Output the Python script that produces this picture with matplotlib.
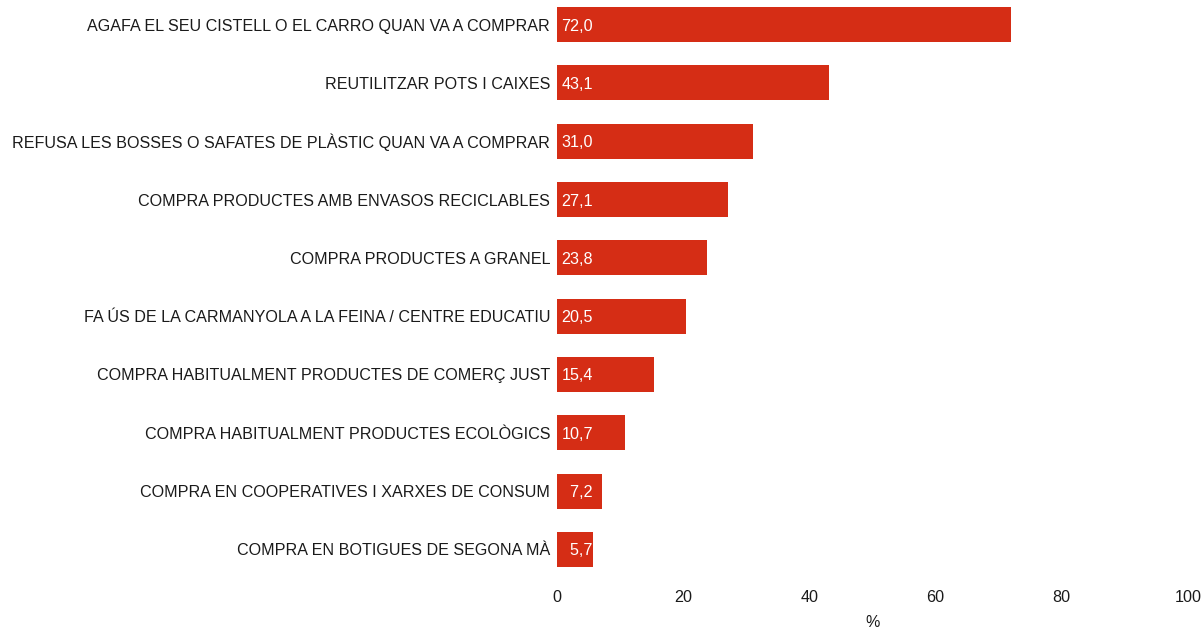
import matplotlib
matplotlib.use("Agg")
import matplotlib.pyplot as plt

# 数据
categories = [
    "AGAFA EL SEU CISTELL O EL CARRO QUAN VA A COMPRAR",
    "REUTILITZAR POTS I CAIXES",
    "REFUSA LES BOSSES O SAFATES DE PLÀSTIC QUAN VA A COMPRAR",
    "COMPRA PRODUCTES AMB ENVASOS RECICLABLES",
    "COMPRA PRODUCTES A GRANEL",
    "FA ÚS DE LA CARMANYOLA A LA FEINA / CENTRE EDUCATIU",
    "COMPRA HABITUALMENT PRODUCTES DE COMERÇ JUST",
    "COMPRA HABITUALMENT PRODUCTES ECOLÒGICS",
    "COMPRA EN COOPERATIVES I XARXES DE CONSUM",
    "COMPRA EN BOTIGUES DE SEGONA MÀ",
]
values = [72.0, 43.1, 31.0, 27.1, 23.8, 20.5, 15.4, 10.7, 7.2, 5.7]
xticks = [0, 20, 40, 60, 80, 100]

plt.rcParams['font.family'] = ['Liberation Sans', 'DejaVu Sans']
FS = 11.6

fig = plt.figure(figsize=(12.03, 6.29), dpi=100)
ax = fig.add_axes([557 / 1203, 54 / 629, 631 / 1203, 575 / 629])

y = list(range(len(categories)))
ax.barh(y, values, height=0.6, color="#D52D15")

# 数值标签 (宽度4, 像 R 的 %4.1f)
for yi, v in zip(y, values):
    txt = f"{v:4.1f}".replace(".", ",").replace(" ", "\u2007")
    ax.text(0.7, yi, txt, color="white", fontsize=FS, va="center_baseline", ha="left")

ax.set_xlim(0, 100)
ax.set_ylim(9 + 25.5 / 58.33, -24.5 / 58.33)
ax.set_yticks(y)
ax.set_yticklabels(categories, fontsize=FS, color="#1a1a1a")
ax.set_xticks(xticks)
ax.set_xticklabels([str(t) for t in xticks], fontsize=FS, color="#1a1a1a")
ax.tick_params(axis="y", length=0, pad=5)
ax.tick_params(axis="x", length=0, pad=11)
ax.set_xlabel("%", fontsize=FS, color="#1a1a1a", labelpad=7)

for s in ax.spines.values():
    s.set_visible(False)

fig.savefig("out.png", dpi=100)
